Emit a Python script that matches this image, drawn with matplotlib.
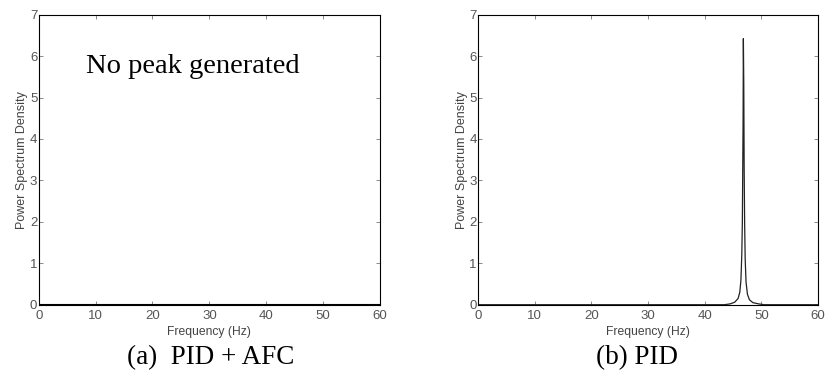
import matplotlib
matplotlib.use('Agg')
import matplotlib.pyplot as plt

# PID + AFC: flat spectrum, no peak
freq_afc = [0, 60]
psd_afc = [0, 0]

# PID: sharp peak near 47 Hz
freq_pid = [0, 43.5, 44.5, 45.3, 45.9, 46.2, 46.4, 46.55, 46.65, 46.72, 46.78,
            46.83, 46.9, 46.97, 47.05, 47.15, 47.3, 47.55, 47.9, 48.5, 49.5, 50.5, 60]
psd_pid = [0, 0, 0.02, 0.06, 0.15, 0.3, 0.6, 1.2, 2.0, 3.3, 4.4,
           6.42, 5.35, 3.3, 2.0, 1.1, 0.55, 0.25, 0.12, 0.05, 0.02, 0, 0]

x_ticks = [0, 10, 20, 30, 40, 50, 60]
y_ticks = [0, 1, 2, 3, 4, 5, 6, 7]

fig = plt.figure(figsize=(8.25, 3.79), dpi=100)
ax1 = fig.add_axes([38.7 / 825, 1 - 304.7 / 379, (380 - 38.7) / 825, 290 / 379])
ax2 = fig.add_axes([478 / 825, 1 - 304.7 / 379, (818 - 478) / 825, 290 / 379])

ax1.plot(freq_afc, psd_afc, color='black', linewidth=1.5)
ax2.plot(freq_pid, psd_pid, color='#222222', linewidth=0.9)

for ax in (ax1, ax2):
    ax.set_xlim(0, 60)
    ax.set_ylim(0, 7)
    ax.set_xticks(x_ticks)
    ax.set_yticks(y_ticks)
    ax.tick_params(direction='in', top=True, right=True, length=3, width=0.6,
                   labelsize=9.5, labelcolor='#555555', color='#777777')
    ax.tick_params(axis='x', pad=3.5)
    ax.tick_params(axis='y', pad=1)
    for lab in ax.get_xticklabels() + ax.get_yticklabels():
        lab.set_family('Liberation Sans')
    for s in ax.spines.values():
        s.set_linewidth(0.8)
    ax.set_xlabel('Frequency (Hz)', fontsize=8.7, color='#444444',
                  family='Liberation Sans', labelpad=3)
    ax.set_ylabel('Power Spectrum Density', fontsize=9, color='#444444',
                  family='Liberation Sans', labelpad=1)

ax1.text(8.3, 5.6, 'No peak generated', fontsize=20.5, family='Liberation Serif',
         va='baseline', ha='left')

fig.text(211 / 825, 1 - 358 / 379, '(a)  PID + AFC', fontsize=19.5,
         family='Liberation Serif', ha='center', va='center')
fig.text(637 / 825, 1 - 358 / 379, '(b) PID', fontsize=19.5,
         family='Liberation Serif', ha='center', va='center')

fig.savefig('out.png', dpi=100)
